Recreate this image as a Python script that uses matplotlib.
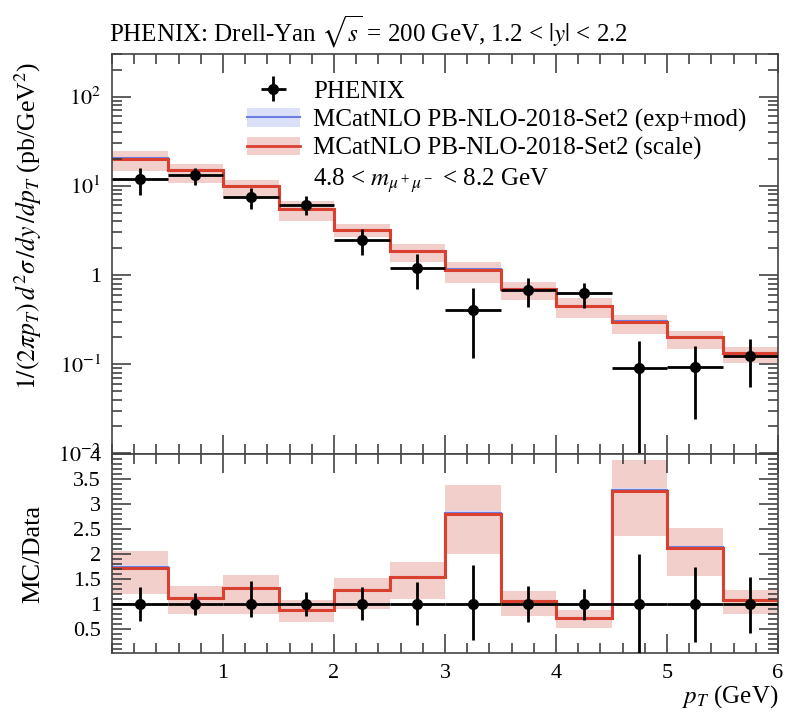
import numpy as np
import matplotlib
matplotlib.use("Agg")
import matplotlib.pyplot as plt
from matplotlib.patches import Patch
from matplotlib.lines import Line2D
from matplotlib.ticker import FixedLocator, FixedFormatter, MultipleLocator, LogLocator, NullFormatter, FuncFormatter

plt.rcParams['font.family'] = ['Liberation Serif', 'DejaVu Serif']
plt.rcParams['mathtext.fontset'] = 'stix'

# ---------------- data ----------------
bin_edges = [0.0, 0.5, 1.0, 1.5, 2.0, 2.5, 3.0, 3.5, 4.0, 4.5, 5.0, 5.5, 6.0]
pt_centers = [0.25, 0.75, 1.25, 1.75, 2.25, 2.75, 3.25, 3.75, 4.25, 4.75, 5.25, 5.75]

data_y = [11.9, 13.1, 7.5, 6.1, 2.47, 1.21, 0.405, 0.68, 0.62, 0.091, 0.093, 0.123]
data_up = [15.8, 15.8, 9.4, 7.6, 3.3, 1.72, 0.71, 0.92, 0.805, 0.183, 0.159, 0.19]
data_lo = [7.9, 10.3, 5.5, 4.7, 1.68, 0.70, 0.116, 0.44, 0.42, 0.0005, 0.0245, 0.056]

mc_scale = [20.1, 14.9, 9.8, 5.5, 3.15, 1.83, 1.14, 0.70, 0.45, 0.30, 0.20, 0.134]
mc_scale_up = [24.3, 17.7, 11.7, 6.7, 3.74, 2.21, 1.41, 0.84, 0.55, 0.356, 0.235, 0.157]
mc_scale_lo = [14.5, 10.7, 7.3, 4.0, 2.69, 1.41, 0.82, 0.52, 0.33, 0.216, 0.148, 0.103]

mc_exp = [20.2, 14.9, 9.8, 5.5, 3.15, 1.83, 1.15, 0.70, 0.45, 0.302, 0.20, 0.134]
mc_exp_up = [20.6, 15.1, 9.95, 5.58, 3.19, 1.86, 1.17, 0.71, 0.456, 0.306, 0.203, 0.136]
mc_exp_lo = [19.8, 14.7, 9.65, 5.42, 3.11, 1.80, 1.13, 0.69, 0.444, 0.298, 0.197, 0.132]

ratio_scale = [1.73, 1.13, 1.33, 0.89, 1.28, 1.55, 2.81, 1.06, 0.73, 3.26, 2.13, 1.09]
ratio_scale_up = [2.07, 1.37, 1.59, 1.08, 1.53, 1.85, 3.38, 1.26, 0.89, 3.89, 2.53, 1.28]
ratio_scale_lo = [1.21, 0.81, 0.81, 0.65, 0.91, 1.11, 2.01, 0.76, 0.53, 2.36, 1.56, 0.81]

ratio_exp = [1.74, 1.13, 1.33, 0.89, 1.28, 1.55, 2.83, 1.06, 0.73, 3.28, 2.14, 1.09]
ratio_exp_up = [1.78, 1.15, 1.35, 0.91, 1.30, 1.57, 2.87, 1.08, 0.74, 3.32, 2.16, 1.11]
ratio_exp_lo = [1.70, 1.11, 1.31, 0.87, 1.26, 1.53, 2.79, 1.04, 0.72, 3.24, 2.12, 1.07]

ratio_data = [1.0] * 12
ratio_data_up = [1.35, 1.23, 1.47, 1.24, 1.35, 1.45, 1.78, 1.36, 1.31, 2.01, 1.75, 1.55]
ratio_data_lo = [0.67, 0.78, 0.75, 0.77, 0.69, 0.59, 0.28, 0.65, 0.68, -0.05, 0.25, 0.43]

xticks = [1, 2, 3, 4, 5, 6]
main_yticks = [0.01, 0.1, 1, 10, 100]
main_yticklabels = [r"$10^{-2}$", r"$10^{-1}$", "1", r"$10^{1}$", r"$10^{2}$"]

# ---------------- style ----------------
RED = "#d9402f"
RED_BAND = "#f3cfcb"
BLUE = "#6b7fe0"
BLUE_BAND = "#dcdff8"
FS_TICK = 16
FS_LAB = 18

fig = plt.figure(figsize=(7.94, 7.14), dpi=100)
ax = fig.add_axes([0.1411, 0.3641, 0.8388, 0.5603])
ax2 = fig.add_axes([0.1411, 0.0854, 0.8388, 0.2787], sharex=ax)

edges = np.array(bin_edges)

# main panel
ax.stairs(mc_scale_up, edges, baseline=mc_scale_lo, fill=True, color=RED_BAND, lw=0)
ax.stairs(mc_exp_up, edges, baseline=mc_exp_lo, fill=True, color=BLUE_BAND, lw=0)
ax.stairs(mc_exp, edges, color=BLUE, lw=1.5, baseline=None)
ax.stairs(mc_scale, edges, color=RED, lw=2.2, baseline=None)
dy = np.array(data_y)
eb = ax.errorbar(pt_centers, dy, xerr=0.25,
                 yerr=[dy - np.array(data_lo), np.array(data_up) - dy],
                 fmt='o', color='black', ms=7, lw=2, capsize=0, zorder=5)
ax.set_yscale('log')
ax.set_ylim(0.0098, 300)
ax.set_xlim(0, 6)
ax.yaxis.set_major_locator(FixedLocator(main_yticks))
ax.yaxis.set_major_formatter(FixedFormatter(main_yticklabels))
ax.yaxis.set_minor_locator(LogLocator(base=10, subs=np.arange(2, 10), numticks=20))
ax.yaxis.set_minor_formatter(NullFormatter())
ax.set_ylabel(r"$1/(2\pi p_T)\,d^2\sigma\,/dy\,/dp_T$ (pb/GeV$^2$)", fontsize=18.5)
ax.yaxis.set_label_coords(-0.102, 0.57)

# ratio panel
ax2.stairs(ratio_scale_up, edges, baseline=ratio_scale_lo, fill=True, color=RED_BAND, lw=0)
ax2.stairs(ratio_exp_up, edges, baseline=ratio_exp_lo, fill=True, color=BLUE_BAND, lw=0)
ax2.stairs(ratio_exp, edges, color=BLUE, lw=1.5, baseline=None)
ax2.stairs(ratio_scale, edges, color=RED, lw=2.2, baseline=None)
rd = np.array(ratio_data)
ax2.errorbar(pt_centers, rd, xerr=0.25,
             yerr=[rd - np.array(ratio_data_lo), np.array(ratio_data_up) - rd],
             fmt='o', color='black', ms=7, lw=2, capsize=0, zorder=5)
ax2.set_ylim(0.02, 4.0)
ax2.yaxis.set_major_locator(MultipleLocator(0.5))
ax2.yaxis.set_minor_locator(MultipleLocator(0.1))
ax2.yaxis.set_major_formatter(FuncFormatter(lambda v, p: "" if v < 0.4 else "%g" % v))
ax2.set_ylabel("MC/Data", fontsize=19)
ax2.yaxis.set_label_coords(-0.102, 0.5)
ax2.set_xlabel(r"$p_T$ (GeV)", fontsize=FS_LAB, loc='right')
ax2.xaxis.set_label_coords(1.0, -0.15)

for a in (ax, ax2):
    a.xaxis.set_major_locator(FixedLocator(xticks))
    a.xaxis.set_minor_locator(MultipleLocator(0.2))
    a.tick_params(which='both', direction='in', top=True, right=True,
                  labelsize=FS_TICK, width=1.1, color='#333333', pad=8)
    a.tick_params(which='major', length=14)
    a.tick_params(which='minor', length=7)
    for s in a.spines.values():
        s.set_linewidth(1.2)
        s.set_color('#444444')
ax.tick_params(axis='x', labelbottom=False)

# legend
handles = [eb,
           (Patch(facecolor=BLUE_BAND, edgecolor='none'), Line2D([], [], color=BLUE, lw=1.5)),
           (Patch(facecolor=RED_BAND, edgecolor='none'), Line2D([], [], color=RED, lw=2)),
           Patch(facecolor='none', edgecolor='none')]
labels = ["PHENIX",
          "MCatNLO PB-NLO-2018-Set2 (exp+mod)",
          "MCatNLO PB-NLO-2018-Set2 (scale)",
          r"4.8 < $m_{\mu^+\mu^-}$ < 8.2 GeV"]
ax.legend(handles, labels, loc='upper left', bbox_to_anchor=(0.188, 0.96),
          frameon=False, fontsize=FS_LAB, handlelength=2.1, handleheight=0.75,
          handletextpad=0.55, labelspacing=0.22, borderaxespad=0)

fig.text(0.137, 0.955, r"PHENIX: Drell-Yan $\sqrt{s}$ = 200 GeV, 1.2 < $|y|$ < 2.2",
         fontsize=18, ha='left', va='center')

fig.savefig("out.png", dpi=100)
